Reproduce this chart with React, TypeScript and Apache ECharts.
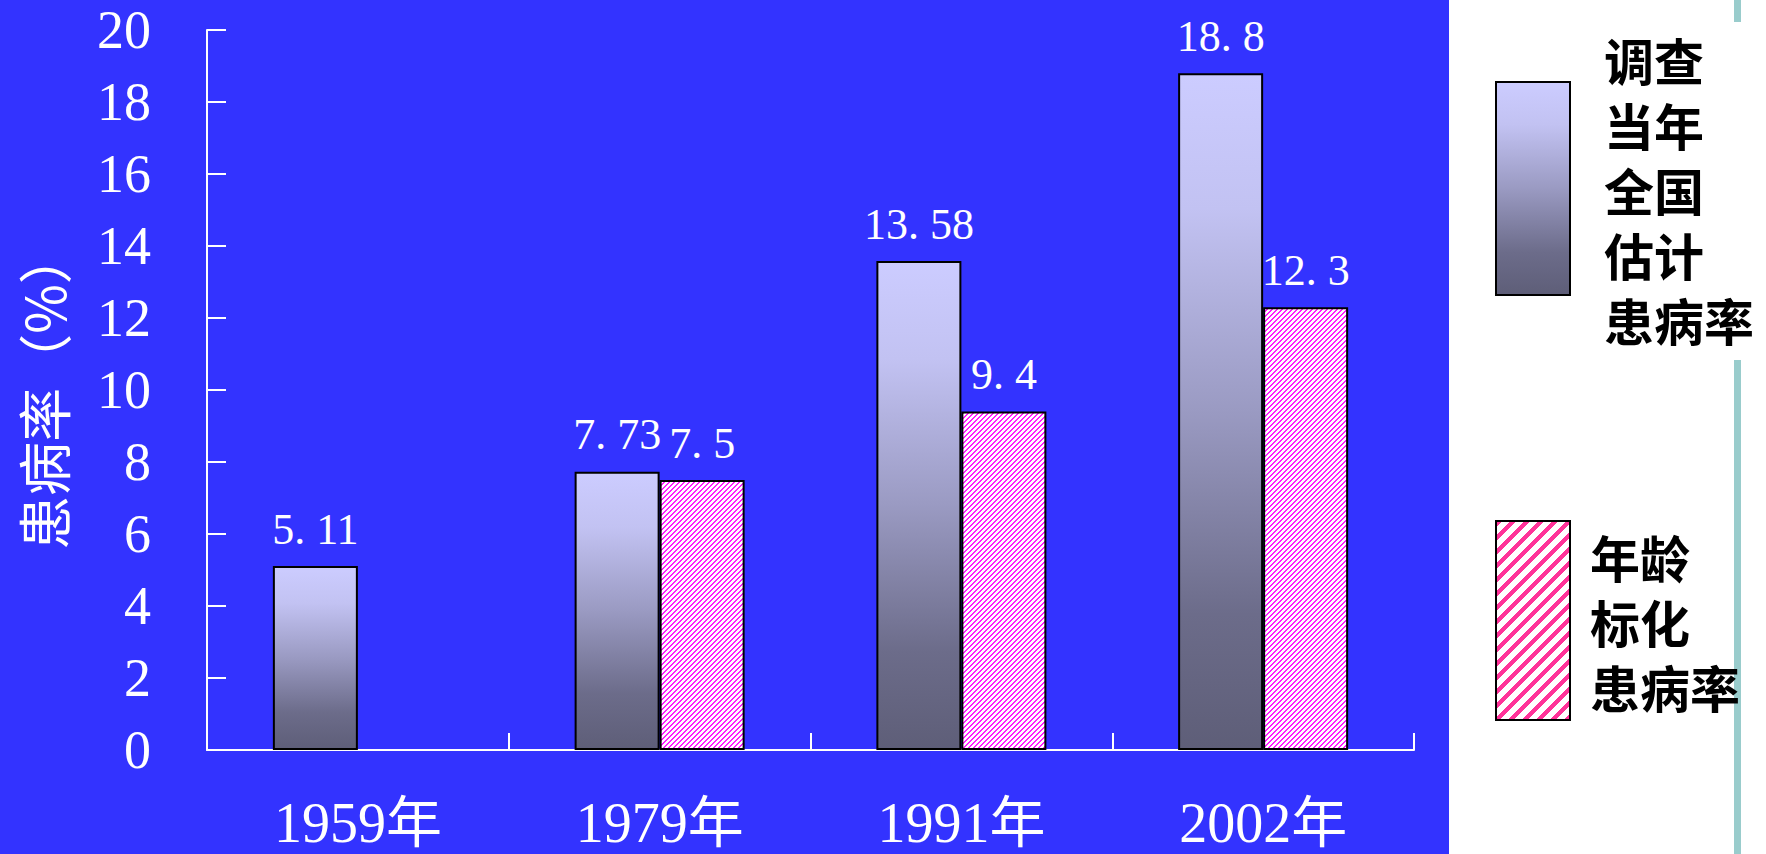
import React, { useEffect, useRef } from 'react';
import * as echarts from 'echarts';

const categories = ['1959年', '1979年', '1991年', '2002年'];
const surveyRates = [5.11, 7.73, 13.58, 18.8];
const standardizedRates: (number | null)[] = [null, 7.5, 9.4, 12.3];
const seriesNames = ['调查当年全国估计患病率', '年龄标化患病率'];
const legendLabels = ['调查\n当年\n全国\n估计\n患病率', '年龄\n标化\n患病率'];
const yAxisName = '患病率（%）';
const yMin = 0;
const yMax = 20;
const yInterval = 2;

const SERIF = '"Liberation Serif", "Times New Roman", "Noto Sans CJK SC", serif';
const CJK = '"Noto Sans CJK SC", "Noto Sans", sans-serif';

function makeHatch(size: number, period: number, stripe: number, color: [number, number, number]) {
  const c = document.createElement('canvas');
  c.width = size;
  c.height = size;
  const ctx = c.getContext('2d')!;
  const img = ctx.createImageData(size, size);
  for (let y = 0; y < size; y++) {
    for (let x = 0; x < size; x++) {
      const on = (x + y) % period < stripe;
      const i = (y * size + x) * 4;
      img.data[i] = on ? color[0] : 255;
      img.data[i + 1] = on ? color[1] : 255;
      img.data[i + 2] = on ? color[2] : 255;
      img.data[i + 3] = 255;
    }
  }
  ctx.putImageData(img, 0, 0);
  return c;
}

const fmtLabel = (p: any) => {
  const v = Array.isArray(p.value) ? p.value[1] : p.value;
  if (v == null) return '';
  return String(v).replace('.', '. ');
};

export default function App() {
  const ref = useRef<HTMLDivElement>(null);
  useEffect(() => {
    document.body.style.margin = '0';
    const chart = echarts.init(ref.current!, undefined, { renderer: 'svg' });
    const barHatch = makeHatch(10, 5, 2, [255, 30, 255]);
    const legendHatch = makeHatch(14, 14, 6, [255, 51, 153]);
    const gradient = new echarts.graphic.LinearGradient(0, 0, 0, 1, [
      { offset: 0, color: '#CCCCFF' },
      { offset: 0.2, color: '#C2C2F2' },
      { offset: 0.5, color: '#9A9AC2' },
      { offset: 0.8, color: '#6C6C8A' },
      { offset: 1, color: '#5E5E78' },
    ]);
    chart.setOption({
      animation: false,
      backgroundColor: '#FFFFFF',
      graphic: {
        elements: [
          { type: 'rect', z: -100, silent: true, shape: { x: 0, y: 0, width: 1449, height: 854 }, style: { fill: '#3333FF' } },
          { type: 'rect', z: -100, silent: true, shape: { x: 1734, y: 0, width: 7, height: 22 }, style: { fill: '#99CCCC' } },
          { type: 'rect', z: -100, silent: true, shape: { x: 1734, y: 360, width: 7, height: 494 }, style: { fill: '#99CCCC' } },
        ],
      },
      grid: { left: 207, right: 352, top: 30, bottom: 104, containLabel: false, outerBoundsMode: 'none' },
      legend: [
        {
          data: [seriesNames[0]],
          orient: 'vertical',
          left: 1495,
          top: 26,
          padding: 0,
          icon: 'rect',
          itemWidth: 74,
          itemHeight: 213,
          selectedMode: false,
          formatter: () => legendLabels[0],
          textStyle: { color: '#000', fontSize: 50, lineHeight: 65, fontFamily: CJK, fontWeight: 'bold', padding: [0, 0, 0, 29] },
        },
        {
          data: [{ name: seriesNames[1], itemStyle: { color: { image: legendHatch, repeat: 'repeat' }, borderColor: '#000', borderWidth: 2 } }],
          orient: 'vertical',
          left: 1495,
          top: 520,
          padding: 0,
          icon: 'rect',
          itemWidth: 74,
          itemHeight: 199,
          selectedMode: false,
          formatter: () => legendLabels[1],
          textStyle: { color: '#000', fontSize: 50, lineHeight: 65, fontFamily: CJK, fontWeight: 'bold', padding: [0, 0, 0, 15] },
        },
      ],
      xAxis: {
        type: 'category',
        data: categories,
        axisLine: { show: true, lineStyle: { color: '#FFFFFF', width: 2 } },
        axisTick: { show: true, inside: true, length: 17, alignWithLabel: false, lineStyle: { color: '#FFFFFF', width: 2 } },
        axisLabel: { color: '#FFFFFF', fontSize: 56, lineHeight: 56, fontFamily: SERIF, margin: 45 },
        splitLine: { show: false },
      },
      yAxis: {
        type: 'value',
        min: yMin,
        max: yMax,
        interval: yInterval,
        name: yAxisName,
        nameLocation: 'middle',
        nameRotate: 90,
        nameGap: 138,
        nameTextStyle: { color: '#FFFFFF', fontSize: 54, fontFamily: CJK },
        axisLine: { show: true, lineStyle: { color: '#FFFFFF', width: 2 } },
        axisTick: { show: true, inside: true, length: 19, lineStyle: { color: '#FFFFFF', width: 2 } },
        axisLabel: { color: '#FFFFFF', fontSize: 54, fontFamily: SERIF, margin: 56 },
        splitLine: { show: false },
      },
      series: [
        {
          name: seriesNames[0],
          type: 'bar',
          data: surveyRates,
          barWidth: 85,
          barGap: '0%',
          itemStyle: { color: gradient, borderColor: '#000', borderWidth: 2 },
          label: { show: true, position: 'top', distance: 15, color: '#FFFFFF', fontSize: 44, fontFamily: SERIF, formatter: fmtLabel },
        },
        {
          name: seriesNames[1],
          type: 'bar',
          data: standardizedRates,
          barWidth: 85,
          barGap: '0%',
          itemStyle: { color: { image: barHatch, repeat: 'repeat' }, borderColor: '#000', borderWidth: 2 },
          label: { show: true, position: 'top', distance: 15, color: '#FFFFFF', fontSize: 44, fontFamily: SERIF, formatter: fmtLabel },
        },
      ],
    });
    return () => chart.dispose();
  }, []);
  return <div ref={ref} style={{ width: 1766, height: 854 }} />;
}
